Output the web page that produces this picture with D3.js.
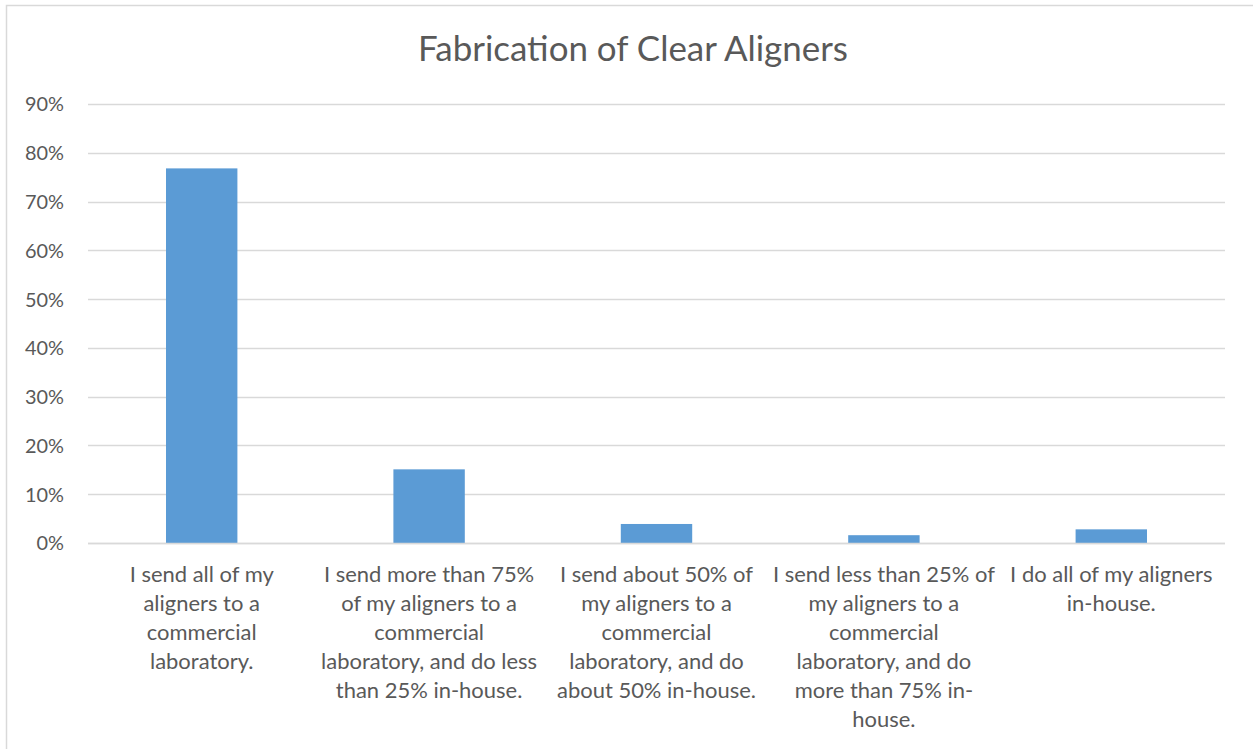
<!DOCTYPE html>
<html>
<head>
<meta charset="utf-8">
<script src="https://cdn.jsdelivr.net/npm/d3@7"></script>
<style>
  html, body { margin: 0; padding: 0; background: #fff; overflow: hidden; }
  svg { display: block; }
</style>
</head>
<body>
<svg id="chart" width="1253" height="749"></svg>
<script>
// ---- data ----
const title = "Fabrication of Clear Aligners";
const categories = [
  ["I send all of my", "aligners to a", "commercial", "laboratory."],
  ["I send more than 75%", "of my aligners to a", "commercial", "laboratory, and do less", "than 25% in-house."],
  ["I send about 50% of", "my aligners to a", "commercial", "laboratory, and do", "about 50% in-house."],
  ["I send less than 25% of", "my aligners to a", "commercial", "laboratory, and do", "more than 75% in-", "house."],
  ["I do all of my aligners", "in-house."]
];
const values = [0.768, 0.151, 0.039, 0.016, 0.028];
const yTicks = [0, 0.1, 0.2, 0.3, 0.4, 0.5, 0.6, 0.7, 0.8, 0.9];

// ---- layout ----
const FONT = "Lato, 'Open Sans', 'Noto Sans', sans-serif";
const TEXT = "#595959";
const GRID = "#d9d9d9";
const BAR = "#5b9bd5";

const svg = d3.select("#chart");
const plot = { left: 88, right: 1225, top: 104, bottom: 543 };

// helper: find font size so a string has a target width
function fitSize(str, target, weight) {
  const t = svg.append("text").attr("font-family", FONT).attr("font-size", 100)
    .attr("font-weight", weight || 400).text(str);
  const w = t.node().getComputedTextLength();
  t.remove();
  return 100 * target / w;
}
const catSize = fitSize("I send less than 25% of", 222);
const tickSize = fitSize("90%", 39);
const titleSize = fitSize(title, 430);

// chart border
svg.append("rect")
  .attr("x", 6.5).attr("y", 5.5)
  .attr("width", 1300).attr("height", 800)
  .attr("fill", "none").attr("stroke", GRID).attr("stroke-width", 1.5);

const x = d3.scaleBand()
  .domain(d3.range(categories.length))
  .range([plot.left, plot.right])
  .paddingInner(0.686).paddingOuter(0.343);

const y = d3.scaleLinear().domain([0, 0.9]).range([plot.bottom, plot.top]);

// gridlines
svg.append("g").selectAll("line").data(yTicks).join("line")
  .attr("x1", plot.left).attr("x2", plot.right)
  .attr("y1", d => Math.round(y(d)) + 0.5).attr("y2", d => Math.round(y(d)) + 0.5)
  .attr("stroke", GRID).attr("stroke-width", 1.5);

// y axis labels
const yAxis = d3.axisLeft(y).tickValues(yTicks).tickFormat(d3.format(".0%")).tickSize(0).tickPadding(0);
const gy = svg.append("g").attr("transform", `translate(64,0)`).call(yAxis);
gy.select(".domain").remove();
gy.selectAll("text")
  .attr("font-family", FONT).attr("font-size", tickSize).attr("fill", TEXT)
  .attr("dy", "0.35em").attr("x", 0);

// bars
svg.append("g").selectAll("rect").data(values).join("rect")
  .attr("x", (d, i) => x(i))
  .attr("width", x.bandwidth())
  .attr("y", d => y(d))
  .attr("height", d => y(0) - y(d))
  .attr("fill", BAR);

// baseline axis
svg.append("line")
  .attr("x1", plot.left).attr("x2", plot.right)
  .attr("y1", y(0) + 0.5).attr("y2", y(0) + 0.5)
  .attr("stroke", GRID).attr("stroke-width", 1.5);

// category labels
const lineH = 29;
const catG = svg.append("g");
categories.forEach((lines, i) => {
  const cx = x(i) + x.bandwidth() / 2;
  const t = catG.append("text")
    .attr("font-family", FONT).attr("font-size", catSize).attr("fill", TEXT)
    .attr("text-anchor", "middle");
  lines.forEach((ln, j) => {
    t.append("tspan").attr("x", cx).attr("y", 582 + j * lineH).text(ln);
  });
});

// title
svg.append("text")
  .attr("x", 633).attr("y", 61)
  .attr("text-anchor", "middle")
  .attr("font-family", FONT).attr("font-size", titleSize).attr("fill", TEXT)
  .text(title);
</script>
</body>
</html>
